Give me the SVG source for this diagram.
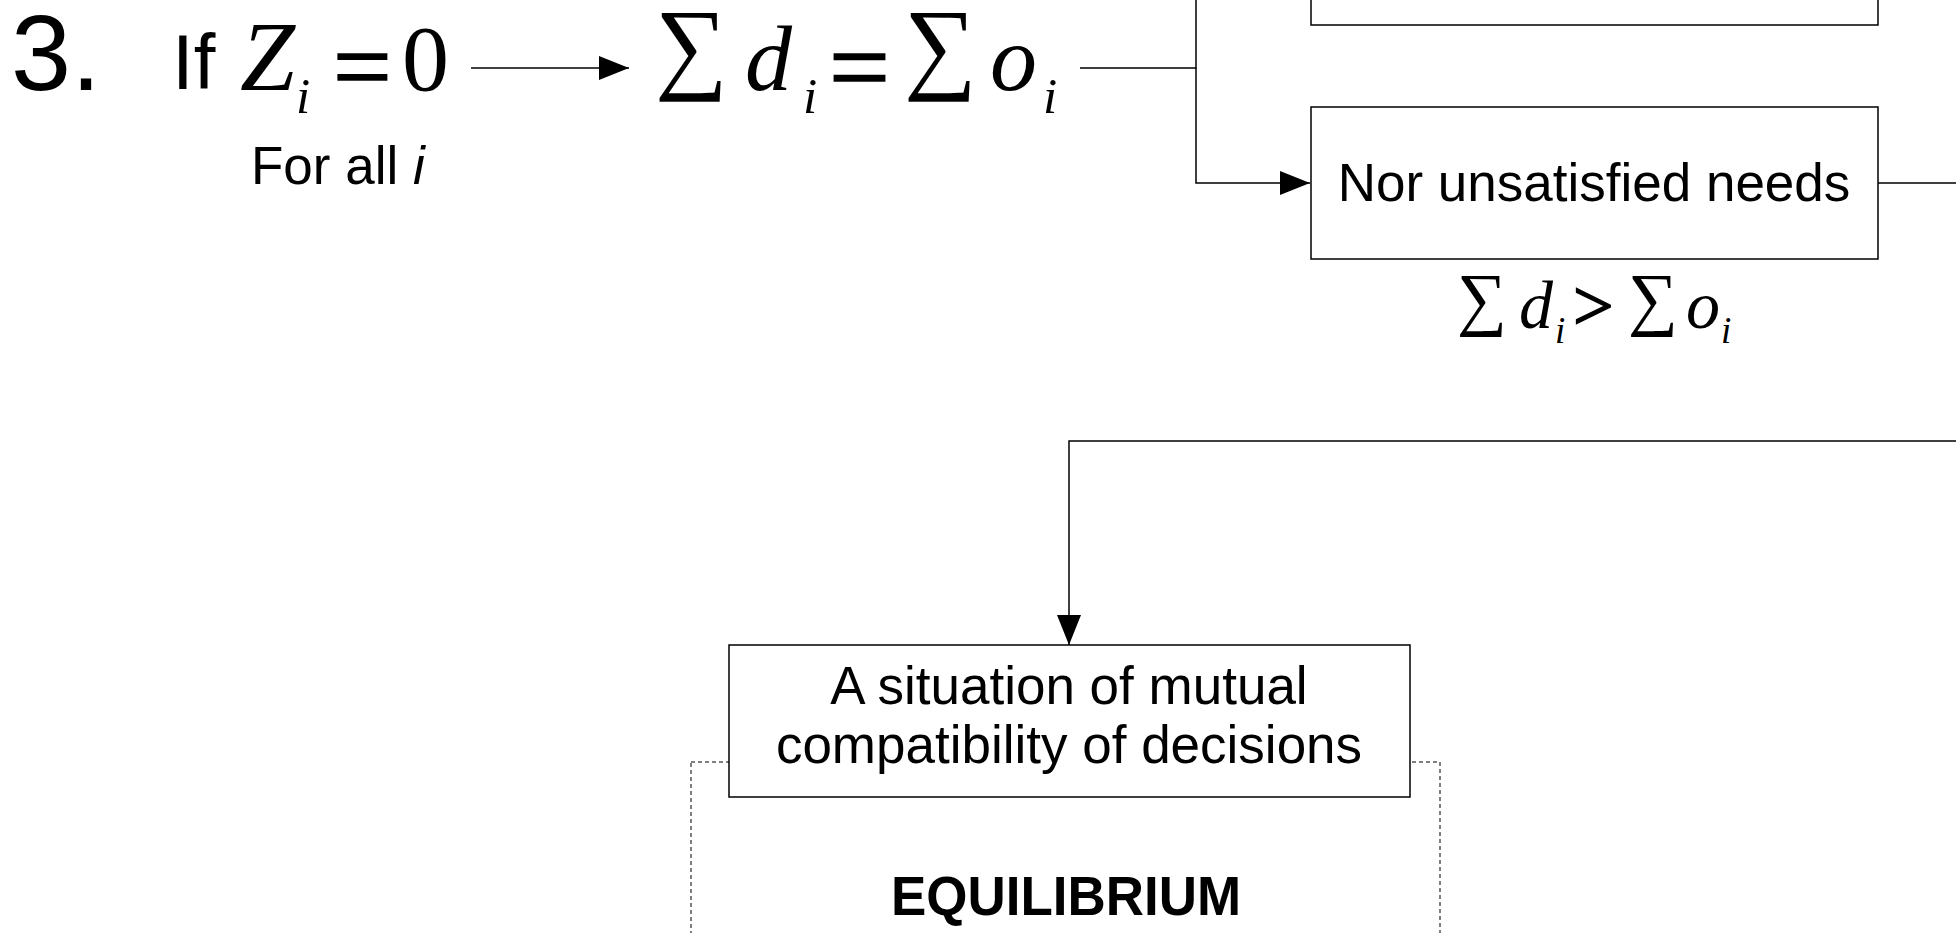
<svg xmlns="http://www.w3.org/2000/svg" width="1956" height="933" viewBox="0 0 1956 933">
<style>
.sans{font-family:"Liberation Sans",Arial,sans-serif;fill:#000}
.math{font-family:"Liberation Serif","Times New Roman",serif;fill:#000}
.it{font-style:italic}
.eq{stroke:#000;stroke-width:1.6}
.box{fill:#fff;stroke:#000;stroke-width:1.5}
.ln{fill:none;stroke:#000;stroke-width:1.5}
</style>
<defs>
<marker id="ah" viewBox="0 0 30 24" refX="30" refY="12" markerWidth="30" markerHeight="24" markerUnits="userSpaceOnUse" orient="auto">
<path d="M0,0 L30,12 L0,24 Z" fill="#000"/>
</marker>
</defs>
<rect width="1956" height="933" fill="#fff"/>

<g id="equilibrium-frame">
<rect x="691" y="762" width="749" height="300" fill="none" stroke="#000" stroke-width="1" stroke-dasharray="4,3"/>
<text class="sans" x="1066" y="915" font-size="56" font-weight="bold" text-anchor="middle" textLength="350" lengthAdjust="spacingAndGlyphs">EQUILIBRIUM</text>
</g>

<g id="connectors">
<line class="ln" x1="471" y1="68" x2="629" y2="68" marker-end="url(#ah)"/>
<polyline class="ln" points="1080,68 1196,68 1196,0"/>
<polyline class="ln" points="1196,68 1196,183 1310,183" marker-end="url(#ah)"/>
<line class="ln" x1="1878" y1="183" x2="1956" y2="183"/>
<polyline class="ln" points="1956,441 1069,441 1069,645" marker-end="url(#ah)"/>
</g>

<g id="condition">
<text class="sans" x="11" y="90" font-size="108">3.</text>
<text class="sans" x="172" y="89" font-size="78">If</text>
<text class="math it" x="240" y="90" font-size="99">Z</text>
<text class="math it" x="296" y="113" font-size="51">i</text>
<text class="math eq" x="333" y="102" font-size="104">=</text>
<text class="math" x="402" y="90" font-size="94">0</text>
<text class="sans" x="251" y="184" font-size="53">For all <tspan font-style="italic">i</tspan></text>
</g>

<g id="balance">
<text class="math" x="655" y="80" font-size="102">∑</text>
<text class="math it" x="745" y="90" font-size="94">d</text>
<text class="math it" x="803" y="113" font-size="51">i</text>
<text class="math eq" x="829" y="103" font-size="108">=</text>
<text class="math" x="904" y="80" font-size="102">∑</text>
<text class="math it" x="990" y="90" font-size="94">o</text>
<text class="math it" x="1043" y="113" font-size="51">i</text>
</g>

<g id="top-box">
<rect class="box" x="1311" y="-60" width="567" height="85"/>
</g>

<g id="needs-box">
<rect class="box" x="1311" y="107" width="567" height="152"/>
<text class="sans" x="1594" y="201" font-size="53" text-anchor="middle">Nor unsatisfied needs</text>
<text class="math" x="1457" y="322" font-size="70">∑</text>
<text class="math it" x="1519" y="328" font-size="68">d</text>
<text class="math it" x="1555" y="343" font-size="37">i</text>
<text class="math eq" x="1573" y="330" font-size="72" stroke-width="0.8">&gt;</text>
<text class="math" x="1628" y="322" font-size="70">∑</text>
<text class="math it" x="1686" y="328" font-size="68">o</text>
<text class="math it" x="1721" y="343" font-size="37">i</text>
</g>

<g id="compat-box">
<rect class="box" x="729" y="645" width="681" height="152"/>
<text class="sans" x="1069" y="704" font-size="53" text-anchor="middle">A situation of mutual</text>
<text class="sans" x="1069" y="763" font-size="53" text-anchor="middle">compatibility of decisions</text>
</g>
</svg>
